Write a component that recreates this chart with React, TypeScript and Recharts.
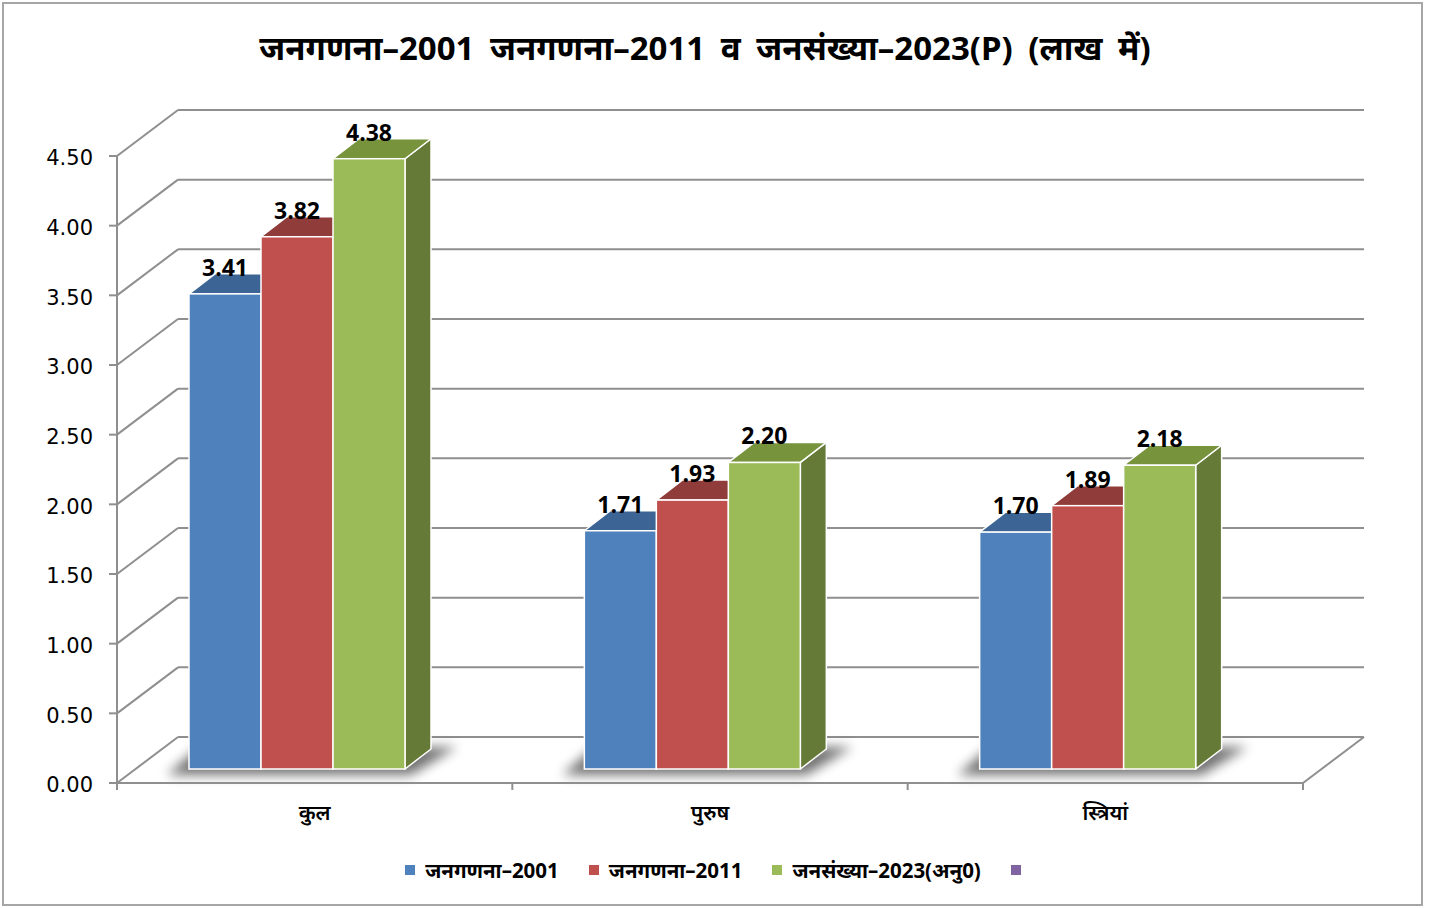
import React from 'react';
import { BarChart, Bar, XAxis, YAxis, CartesianGrid, Legend, LabelList } from 'recharts';

const categories = ['कुल', 'पुरुष', 'स्त्रियां'];
const census2001 = [3.41, 1.71, 1.7];
const census2011 = [3.82, 1.93, 1.89];
const population2023 = [4.38, 2.2, 2.18];
const yTicks = [0, 0.5, 1, 1.5, 2, 2.5, 3, 3.5, 4, 4.5];
const seriesKeys = ['s2001', 's2011', 's2023'];
const seriesNames = ['जनगणना–2001', 'जनगणना–2011', 'जनसंख्या–2023(अनु0)', ''];
const seriesColors = ['#4f81bd', '#c0504d', '#9bbb59', '#8064a2'];
const topColors = ['#3c6494', '#8f3c3a', '#77933c'];
const sideColors = ['#385d8a', '#8c3836', '#667a37'];
const titleText = 'जनगणना–2001 जनगणना–2011 व जनसंख्या–2023(P) (लाख में)';

const data = categories.map((c, i) => ({
  category: c,
  s2001: census2001[i],
  s2011: census2011[i],
  s2023: population2023[i],
}));

// 3D projection offsets
const DX = 61; // wall depth x
const DY = -46; // wall depth y
const SX = -18; // bar front-face shift
const SY = -14;
const BDX = 26; // bar depth
const BDY = -20;
const GRID = '#8f8f8f';
const DEV = "'Noto Sans', 'Noto Sans Devanagari', 'Lohit Devanagari', FreeSans, sans-serif";

const makeShape = (si: number, nSeries: number) => (props: any) => {
  const { x, y, width, height } = props;
  if (x == null || width == null) return <g />;
  const fx = x + SX;
  const fy = y + SY;
  const fw = width;
  const fh = height;
  const by = fy + fh;
  const side = `${fx + fw},${fy} ${fx + fw + BDX},${fy + BDY} ${fx + fw + BDX},${by + BDY} ${fx + fw},${by}`;
  const top = `${fx},${fy} ${fx + BDX},${fy + BDY} ${fx + fw + BDX},${fy + BDY} ${fx + fw},${fy}`;
  const gw = fw * nSeries;
  const shadow =
    si === 0
      ? `${fx - 22},${by + 6} ${fx + gw + 6},${by + 6} ${fx + gw + BDX + 26},${by + BDY - 2} ${fx + BDX - 16},${by + BDY - 2}`
      : null;
  return (
    <g>
      {shadow && (
        <>
          <defs>
            <filter id="barShadowBlur" x="-50%" y="-200%" width="200%" height="500%">
              <feGaussianBlur stdDeviation="6" />
            </filter>
          </defs>
          <polygon points={shadow} fill="#000" opacity={0.55} filter="url(#barShadowBlur)" />
        </>
      )}
      <polygon points={side} fill={sideColors[si]} stroke="#fff" strokeWidth={1.5} strokeLinejoin="round" />
      <polygon points={top} fill={topColors[si]} stroke="#fff" strokeWidth={1.5} strokeLinejoin="round" />
      <rect x={fx} y={fy} width={fw} height={fh} fill={seriesColors[si]} stroke="#fff" strokeWidth={1.5} />
    </g>
  );
};

const renderValueLabel = (p: any) => {
  const { x, y, width, value } = p;
  if (x == null) return null;
  return (
    <text
      x={x + SX + width / 2}
      y={y + SY - 18}
      textAnchor="middle"
      fontFamily="'Open Sans', sans-serif"
      fontWeight={700}
      fontSize={23}
      fill="#000"
    >
      {Number(value).toFixed(2)}
    </text>
  );
};

const XTick = (p: any) => {
  const { x, y, payload, index, visibleTicksCount } = p;
  const off = payload && payload.offset ? payload.offset : 0;
  const last = index === (visibleTicksCount ?? categories.length) - 1;
  return (
    <g>
      <line x1={x - off} y1={y} x2={x - off} y2={y + 7} stroke={GRID} strokeWidth={2} />
      {last && (
        <>
          <line x1={x + off} y1={y} x2={x + off} y2={y + 7} stroke={GRID} strokeWidth={2} />
          <line x1={x + off} y1={y} x2={x + off + DX} y2={y + DY} stroke={GRID} strokeWidth={2} />
        </>
      )}
      <text
        x={x}
        y={y + 29}
        textAnchor="middle"
        dominantBaseline="central"
        fontFamily={DEV}
        fontSize={21}
        fontWeight={600}
        fill="#000"
      >
        {payload.value}
      </text>
    </g>
  );
};

const gridLine = (p: any) => {
  const { x1, y1, x2 } = p;
  return (
    <g key={p.key ?? `g-${p.index}`}>
      <line x1={x1} y1={y1} x2={x1 + DX} y2={y1 + DY} stroke={GRID} strokeWidth={2} />
      <line x1={x1 + DX} y1={y1 + DY} x2={x2 + DX} y2={y1 + DY} stroke={GRID} strokeWidth={2} />
    </g>
  );
};

const renderLegend = () => (
  <div
    style={{
      display: 'flex',
      justifyContent: 'center',
      alignItems: 'center',
      height: 36,
      fontFamily: DEV,
    }}
  >
    {seriesNames.map((n, i) => (
      <div key={i} style={{ display: 'flex', alignItems: 'center', marginRight: i < seriesNames.length - 1 ? 30 : 0 }}>
        <span style={{ display: 'inline-block', width: 10, height: 10, background: seriesColors[i], marginRight: n ? 10 : 0 }} />
        {n && <span style={{ fontSize: 20.5, fontWeight: 700, color: '#000' }}>{n}</span>}
      </div>
    ))}
  </div>
);

export default function App() {
  return (
    <div style={{ position: 'relative', width: 1436, height: 908, background: '#fff' }}>
      <style>{'body{margin:0;background:#fff}'}</style>
      <div
        style={{
          position: 'absolute',
          left: 2,
          top: 2,
          width: 1421,
          height: 904,
          border: '2px solid #a6a6a6',
          boxSizing: 'border-box',
        }}
      />
      <div
        style={{
          position: 'absolute',
          left: 0,
          top: 27,
          width: 1410,
          textAlign: 'center',
          fontFamily: DEV,
          fontWeight: 700,
          fontSize: 33,
          wordSpacing: 7,
          lineHeight: '42px',
          color: '#000',
          whiteSpace: 'nowrap',
        }}
      >
        {titleText}
      </div>
      <div style={{ position: 'absolute', left: 0, top: 0 }}>
        <BarChart
          width={1436}
          height={908}
          data={data}
          margin={{ top: 156, right: 133, bottom: 20, left: 0 }}
          barGap={0}
          barSize={72}
        >
          <CartesianGrid vertical={false} horizontal={gridLine} />
          <XAxis
            dataKey="category"
            type="category"
            interval={0}
            height={69}
            tickSize={0}
            tickMargin={0}
            tick={<XTick />}
            axisLine={{ stroke: GRID, strokeWidth: 2 }}
            tickLine={false}
          />
          <YAxis
            type="number"
            domain={[0, 4.5]}
            ticks={yTicks}
            width={117}
            tickSize={8}
            tickMargin={16}
            tickFormatter={(v: number) => v.toFixed(2)}
            tick={{ fontSize: 21, fill: '#000', fontFamily: "'DejaVu Sans', sans-serif", dy: 2 }}
            axisLine={{ stroke: GRID, strokeWidth: 2 }}
            tickLine={{ stroke: GRID, strokeWidth: 2 }}
          />
          <Legend
            verticalAlign="bottom"
            height={36}
            content={renderLegend}
            wrapperStyle={{ left: 0, width: 1426, height: 36 }}
          />
          {seriesKeys.map((k, i) => (
            <Bar
              key={k}
              dataKey={k}
              name={seriesNames[i]}
              fill={seriesColors[i]}
              isAnimationActive={false}
              shape={makeShape(i, seriesKeys.length)}
            >
              <LabelList dataKey={k} content={renderValueLabel} />
            </Bar>
          ))}
        </BarChart>
      </div>
    </div>
  );
}
